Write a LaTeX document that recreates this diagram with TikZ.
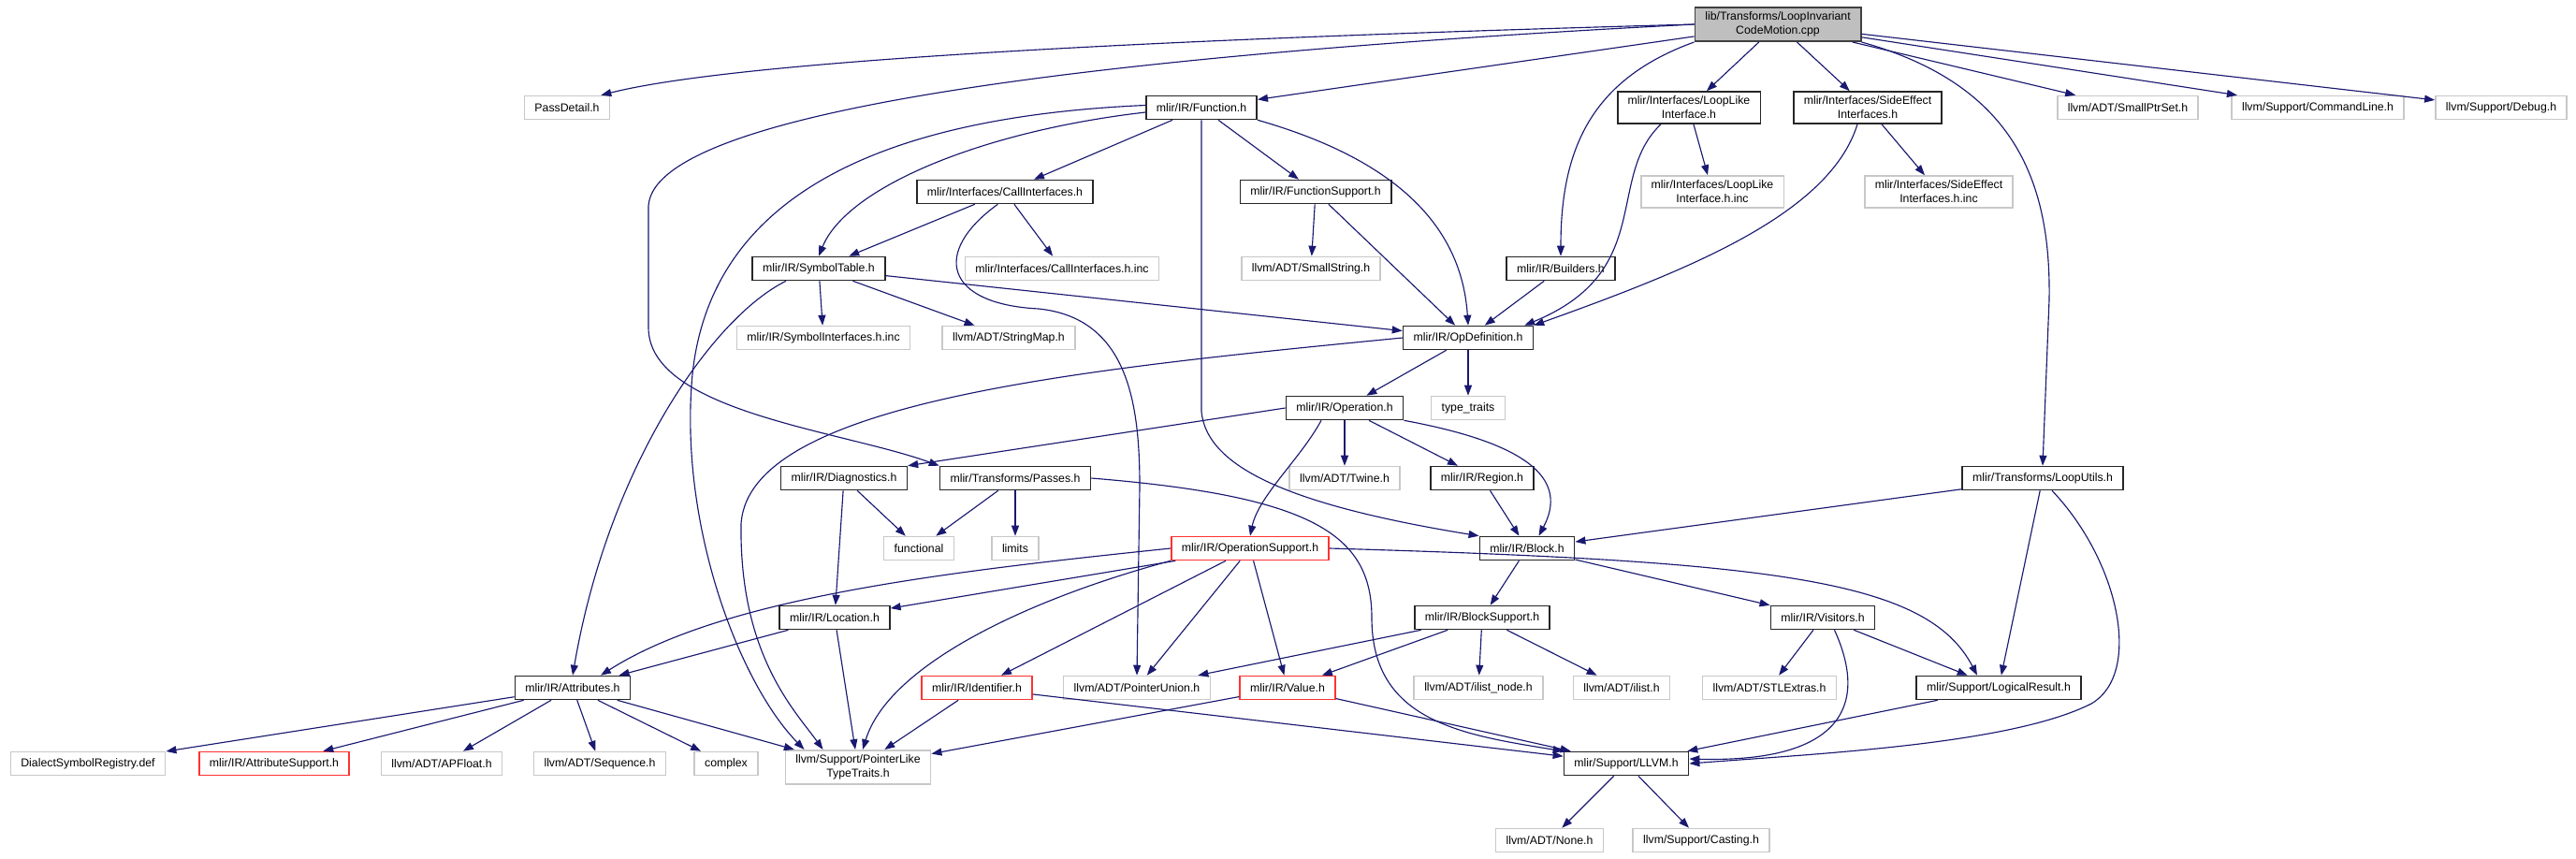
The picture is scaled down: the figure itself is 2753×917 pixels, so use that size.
\documentclass[tikz,border=0pt]{standalone}
\usepackage{fontspec}
\setmainfont{Liberation Sans}
\usetikzlibrary{arrows.meta}
\definecolor{edgecolor}{RGB}{25,25,112}
\definecolor{leafcolor}{RGB}{200,200,200}
\definecolor{rootfill}{RGB}{191,191,191}
\definecolor{trunccolor}{RGB}{255,50,50}

\begin{document}
\begin{tikzpicture}[
    x=0.02cm, y=-0.02cm,
    file/.style={rectangle, draw, line width=0.9pt, inner xsep=0.22cm, inner ysep=0.1cm, minimum height=0.5cm, align=center, font=\fontsize{7}{8.5}\selectfont},
    doc/.style={file, draw=black!85},
    ext/.style={file, draw=leafcolor},
    trunc/.style={file, draw=trunccolor},
    root/.style={file, draw=black!75, fill=rootfill},
    arrow/.style={-{Triangle[length=0.22cm,width=0.16cm]}, edgecolor, line width=0.65pt}
]
\useasboundingbox (0,0) rectangle (2753,917);

% ===== ROOT =====
\node[root] (top) at (1900,26) {lib/Transforms/LoopInvariant\\CodeMotion.cpp};

% ===== DIRECT INCLUDES =====
\node[ext] (passdetail) at (606,115) {PassDetail.h};
\node[doc] (function) at (1284,115) {mlir/IR/Function.h};
\node[doc] (looplike) at (1805,115) {mlir/Interfaces/LoopLike\\Interface.h};
\node[doc] (sideeffect) at (1996,115) {mlir/Interfaces/SideEffect\\Interfaces.h};
\node[ext] (smallptrset) at (2274,115) {llvm/ADT/SmallPtrSet.h};
\node[ext] (commandline) at (2477,115) {llvm/Support/CommandLine.h};
\node[ext] (debug) at (2673,115) {llvm/Support/Debug.h};

% ===== SECOND LEVEL =====
\node[doc] (callif) at (1074,205) {mlir/Interfaces/CallInterfaces.h};
\node[doc] (funcsupport) at (1406,205) {mlir/IR/FunctionSupport.h};
\node[ext] (looplikeinc) at (1830,205) {mlir/Interfaces/LoopLike\\Interface.h.inc};
\node[ext] (sideeffectinc) at (2072,205) {mlir/Interfaces/SideEffect\\Interfaces.h.inc};

\node[doc] (symtab) at (875,287) {mlir/IR/SymbolTable.h};
\node[ext] (callifinc) at (1135,287) {mlir/Interfaces/CallInterfaces.h.inc};
\node[ext] (smallstring) at (1401,287) {llvm/ADT/SmallString.h};
\node[doc] (builders) at (1668,287) {mlir/IR/Builders.h};

\node[ext] (symifinc) at (880,361) {mlir/IR/SymbolInterfaces.h.inc};
\node[ext] (stringmap) at (1078,361) {llvm/ADT/StringMap.h};
\node[doc] (opdef) at (1569,361) {mlir/IR/OpDefinition.h};

\node[doc] (operation) at (1437,436) {mlir/IR/Operation.h};
\node[ext] (typetraits) at (1569,436) {type\_traits};

% ===== MIDDLE LEVEL =====
\node[doc] (diagnostics) at (902,511) {mlir/IR/Diagnostics.h};
\node[doc] (passes) at (1085,511) {mlir/Transforms/Passes.h};
\node[ext] (twine) at (1437,511) {llvm/ADT/Twine.h};
\node[doc] (region) at (1584,511) {mlir/IR/Region.h};
\node[doc] (looputils) at (2183,511) {mlir/Transforms/LoopUtils.h};

\node[ext] (functional) at (982,586) {functional};
\node[ext] (limits) at (1085,586) {limits};
\node[trunc] (opsupport) at (1336,586) {mlir/IR/OperationSupport.h};
\node[doc] (block) at (1632,586) {mlir/IR/Block.h};

\node[doc] (location) at (892,660) {mlir/IR/Location.h};
\node[doc] (blocksupport) at (1584,660) {mlir/IR/BlockSupport.h};
\node[doc] (visitors) at (1948,660) {mlir/IR/Visitors.h};

% ===== LOWER LEVEL =====
\node[doc] (attributes) at (612,735) {mlir/IR/Attributes.h};
\node[trunc] (identifier) at (1044,735) {mlir/IR/Identifier.h};
\node[ext] (pointerunion) at (1215,735) {llvm/ADT/PointerUnion.h};
\node[trunc] (value) at (1376,735) {mlir/IR/Value.h};
\node[ext] (ilistnode) at (1580,735) {llvm/ADT/ilist\_node.h};
\node[ext] (ilist) at (1733,735) {llvm/ADT/ilist.h};
\node[ext] (stlextras) at (1891,735) {llvm/ADT/STLExtras.h};
\node[doc] (logicalresult) at (2136,735) {mlir/Support/LogicalResult.h};

\node[ext] (dialectreg) at (94,816) {DialectSymbolRegistry.def};
\node[trunc] (attrsupport) at (293,816) {mlir/IR/AttributeSupport.h};
\node[ext] (apfloat) at (472,816) {llvm/ADT/APFloat.h};
\node[ext] (sequence) at (641,816) {llvm/ADT/Sequence.h};
\node[ext] (complex) at (776,816) {complex};
\node[ext] (pltt) at (917,820) {llvm/Support/PointerLike\\TypeTraits.h};
\node[doc] (llvm) at (1738,816) {mlir/Support/LLVM.h};

\node[ext] (none) at (1656,898) {llvm/ADT/None.h};
\node[ext] (casting) at (1818,898) {llvm/Support/Casting.h};

% ===== ARROWS - ROOT =====
\draw[arrow] (top.west) .. controls (1300,40) and (800,62) .. ([xshift=-0.2cm]passdetail.north east);
\draw[arrow] (top.west) .. controls (1250,55) and (700,110) .. (693,220) -- (693,350) .. controls (693,440) and (900,460) .. (passes.north west);
\draw[arrow] (top) -- (function);
\draw[arrow] (top.south west) .. controls (1700,85) and (1668,160) .. (builders.north);
\draw[arrow] (top) -- (looplike);
\draw[arrow] (top) -- (sideeffect);
\draw[arrow] (top) -- (smallptrset);
\draw[arrow] (top) -- (commandline);
\draw[arrow] (top) -- (debug);
\draw[arrow] (top.south east) .. controls (2150,90) and (2192,190) .. (2190,320) -- (looputils.north);

% ===== ARROWS - FUNCTION =====
\draw[arrow] (function) -- (callif);
\draw[arrow] (function) -- (funcsupport);
\draw[arrow] (function.south east) .. controls (1490,170) and (1562,240) .. (opdef.north);
\draw[arrow] (function.south) -- (1284,440) .. controls (1290,500) and (1380,540) .. (block.north west);
\draw[arrow] ([yshift=-0.1cm]function.west) .. controls (1050,140) and (905,200) .. (symtab.north);
\draw[arrow] ([yshift=0.05cm]function.west) .. controls (940,125) and (760,210) .. (740,400) .. controls (725,560) and (790,730) .. ([xshift=-1.15cm]pltt.north);

% ===== ARROWS - INTERFACES =====
\draw[arrow] (callif) -- (symtab);
\draw[arrow] (callif) -- (callifinc);
\draw[arrow] (callif.240) .. controls (995,270) and (1010,325) .. (1110,330) .. controls (1205,340) and (1218,430) .. (1218,520) -- (pointerunion.north);
\draw[arrow] (funcsupport) -- (smallstring);
\draw[arrow] (funcsupport) -- (opdef);
\draw[arrow] (looplike) -- (looplikeinc);
\draw[arrow] ([xshift=-0.6cm]looplike.south) .. controls (1715,190) and (1770,290) .. ([xshift=-0.2cm]opdef.north east);
\draw[arrow] (sideeffect) -- (sideeffectinc);
\draw[arrow] ([xshift=-0.22cm]sideeffect.south) .. controls (1955,230) and (1800,290) .. (opdef.north east);
\draw[arrow] (builders) -- (opdef);

% ===== ARROWS - SYMBOLS AND OPS =====
\draw[arrow] (symtab) -- (symifinc);
\draw[arrow] (symtab) -- (stringmap);
\draw[arrow] (symtab) -- (opdef);
\draw[arrow] ([xshift=-0.7cm]symtab.south) .. controls (760,340) and (650,500) .. (attributes.north);
\draw[arrow] (opdef) -- (operation);
\draw[arrow] (opdef) -- (typetraits);
\draw[arrow] (opdef.west) .. controls (1150,395) and (800,430) .. (792,560) .. controls (790,700) and (850,760) .. ([xshift=-0.75cm]pltt.north);
\draw[arrow] (operation.west) -- (diagnostics.north east);
\draw[arrow] ([xshift=-0.5cm]operation.south) .. controls (1390,490) and (1345,530) .. (opsupport.north);
\draw[arrow] (operation) -- (twine);
\draw[arrow] (operation) -- (region);
\draw[arrow] (operation.south east) .. controls (1640,475) and (1675,515) .. ([xshift=0.25cm]block.north);

% ===== ARROWS - MIDDLE =====
\draw[arrow] (diagnostics) -- (functional);
\draw[arrow] (diagnostics) -- (location);
\draw[arrow] (passes) -- (functional);
\draw[arrow] (passes) -- (limits);
\draw[arrow] (passes.east) .. controls (1400,530) and (1466,570) .. (1466,660) .. controls (1466,770) and (1560,785) .. (llvm.north west);
\draw[arrow] (region) -- (block);
\draw[arrow] (looputils) -- (block);
\draw[arrow] (looputils) -- (logicalresult);
\draw[arrow] ([xshift=0.2cm]looputils.south) .. controls (2265,600) and (2290,720) .. (2235,752) .. controls (2150,795) and (1950,805) .. (llvm.east);

\draw[arrow] (opsupport.west) .. controls (1000,612) and (770,640) .. ([xshift=0.6cm]attributes.north);
\draw[arrow] (opsupport) -- (location);
\draw[arrow] (opsupport.south west) .. controls (1100,640) and (950,710) .. ([xshift=0.1cm]pltt.north);
\draw[arrow] (opsupport) -- (identifier);
\draw[arrow] (opsupport) -- (pointerunion);
\draw[arrow] (opsupport) -- (value);
\draw[arrow] (opsupport.east) .. controls (1900,600) and (2060,620) .. ([xshift=-0.46cm]logicalresult.north);
\draw[arrow] (block) -- (blocksupport);
\draw[arrow] (block) -- (visitors);

\draw[arrow] (blocksupport) -- (pointerunion);
\draw[arrow] (blocksupport) -- (value);
\draw[arrow] (blocksupport) -- (ilistnode);
\draw[arrow] (blocksupport) -- (ilist);
\draw[arrow] (location) -- (attributes);
\draw[arrow] (location) -- (pltt);
\draw[arrow] (visitors) -- (stlextras);
\draw[arrow] (visitors) -- (logicalresult);
\draw[arrow] ([xshift=0.25cm]visitors.south) .. controls (2000,760) and (1960,815) .. ([yshift=0.1cm]llvm.east);

% ===== ARROWS - BOTTOM =====
\draw[arrow] (attributes) -- (dialectreg);
\draw[arrow] (attributes) -- (attrsupport);
\draw[arrow] (attributes) -- (apfloat);
\draw[arrow] (attributes) -- (sequence);
\draw[arrow] (attributes) -- (complex);
\draw[arrow] (attributes) -- (pltt);
\draw[arrow] (identifier) -- (pltt);
\draw[arrow] (identifier) -- (llvm);
\draw[arrow] (value) -- (pltt);
\draw[arrow] (value) -- (llvm);
\draw[arrow] (logicalresult) -- (llvm);
\draw[arrow] (llvm) -- (none);
\draw[arrow] (llvm) -- (casting);

\end{tikzpicture}
\end{document}
